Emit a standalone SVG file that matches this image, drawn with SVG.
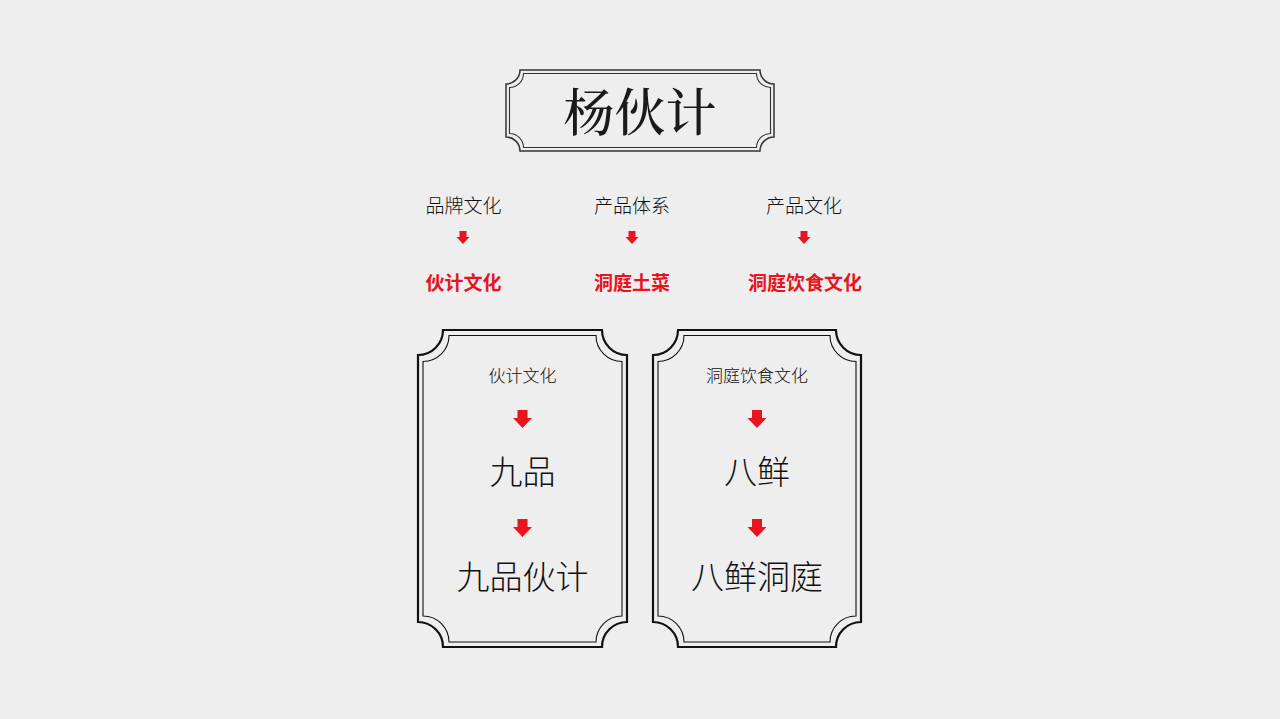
<svg xmlns="http://www.w3.org/2000/svg" width="1280" height="719" viewBox="0 0 1280 719">
<defs>
<style>
.t{font-family:"Noto Sans CJK SC","Noto Sans",sans-serif;fill:#111;text-anchor:middle;font-weight:300}
.r{font-family:"Noto Sans CJK SC","Noto Sans",sans-serif;fill:#e8141e;text-anchor:middle;font-weight:700}
.ti{font-family:"Noto Serif CJK SC","Noto Sans CJK SC",serif;fill:#1a1a1a;text-anchor:middle;font-weight:500}
.fo{fill:none;stroke:#111;stroke-width:2.2}
.fi{fill:none;stroke:#111;stroke-width:1.1}
.arr{fill:#e8141e}
</style>
<path id="big" d="M-5,-18 H5 V-10 H9.5 L0,0 L-9.5,-10 H-5 Z"/>
<path id="small" d="M-3.5,-13 H3.5 V-7 H6.5 L0,0 L-6.5,-7 H-3.5 Z"/>
</defs>
<rect width="1280" height="719" fill="#eeeeee"/>
<g id="title">
<path class="fi" style="stroke-width:1.5;stroke:#333" d="M520,70 H760 A14,14 0 0 0 774,84 V137 A14,14 0 0 0 760,151 H520 A14,14 0 0 0 506,137 V84 A14,14 0 0 0 520,70 Z"/>
<path class="fi" style="stroke:#333" d="M523.5,73.5 H756.5 A14,14 0 0 0 770.5,87.5 V133.5 A14,14 0 0 0 756.5,147.5 H523.5 A14,14 0 0 0 509.5,133.5 V87.5 A14,14 0 0 0 523.5,73.5 Z"/>
<text class="ti" x="640" y="131" font-size="51">杨伙计</text>
</g>
<g id="col1">
<text class="t" x="463.5" y="212.5" font-size="19">品牌文化</text>
<text class="r" x="463.5" y="289.5" font-size="19">伙计文化</text>
</g>
<g id="col2">
<text class="t" x="632" y="212.5" font-size="19">产品体系</text>
<text class="r" x="632" y="289.5" font-size="19">洞庭土菜</text>
</g>
<g id="col3">
<text class="t" x="804" y="212.5" font-size="19">产品文化</text>
<text class="r" x="805" y="289.5" font-size="19">洞庭饮食文化</text>
</g>
<g id="card-left">
<path class="fo" d="M443,330 H602 A25,25 0 0 0 627,355 V622 A25,25 0 0 0 602,647 H443 A25,25 0 0 0 418,622 V355 A25,25 0 0 0 443,330 Z"/>
<path class="fi" d="M449,335.5 H596 A26,26 0 0 0 622,361.5 V616 A26,26 0 0 0 596,642 H449 A26,26 0 0 0 423,616 V361.5 A26,26 0 0 0 449,335.5 Z"/>
<text class="t" x="522.5" y="381.5" font-size="17">伙计文化</text>
<text class="t" x="522.5" y="484" font-size="33">九品</text>
<text class="t" x="522.5" y="589" font-size="33">九品伙计</text>
</g>
<g id="card-right">
<path class="fo" d="M678,330 H836 A25,25 0 0 0 861,355 V622 A25,25 0 0 0 836,647 H678 A25,25 0 0 0 653,622 V355 A25,25 0 0 0 678,330 Z"/>
<path class="fi" d="M684,335.5 H830 A26,26 0 0 0 856,361.5 V616 A26,26 0 0 0 830,642 H684 A26,26 0 0 0 658,616 V361.5 A26,26 0 0 0 684,335.5 Z"/>
<text class="t" x="757" y="381.5" font-size="17">洞庭饮食文化</text>
<text class="t" x="757" y="484" font-size="33">八鲜</text>
<text class="t" x="757" y="589" font-size="33">八鲜洞庭</text>
</g>
<g id="connectors">
<use href="#small" class="arr" x="463" y="244"/>
<use href="#small" class="arr" x="632" y="244"/>
<use href="#small" class="arr" x="804" y="244"/>
<use href="#big" class="arr" x="522.5" y="428"/>
<use href="#big" class="arr" x="522.5" y="537"/>
<use href="#big" class="arr" x="757" y="428"/>
<use href="#big" class="arr" x="757" y="537"/>
</g>
</svg>
